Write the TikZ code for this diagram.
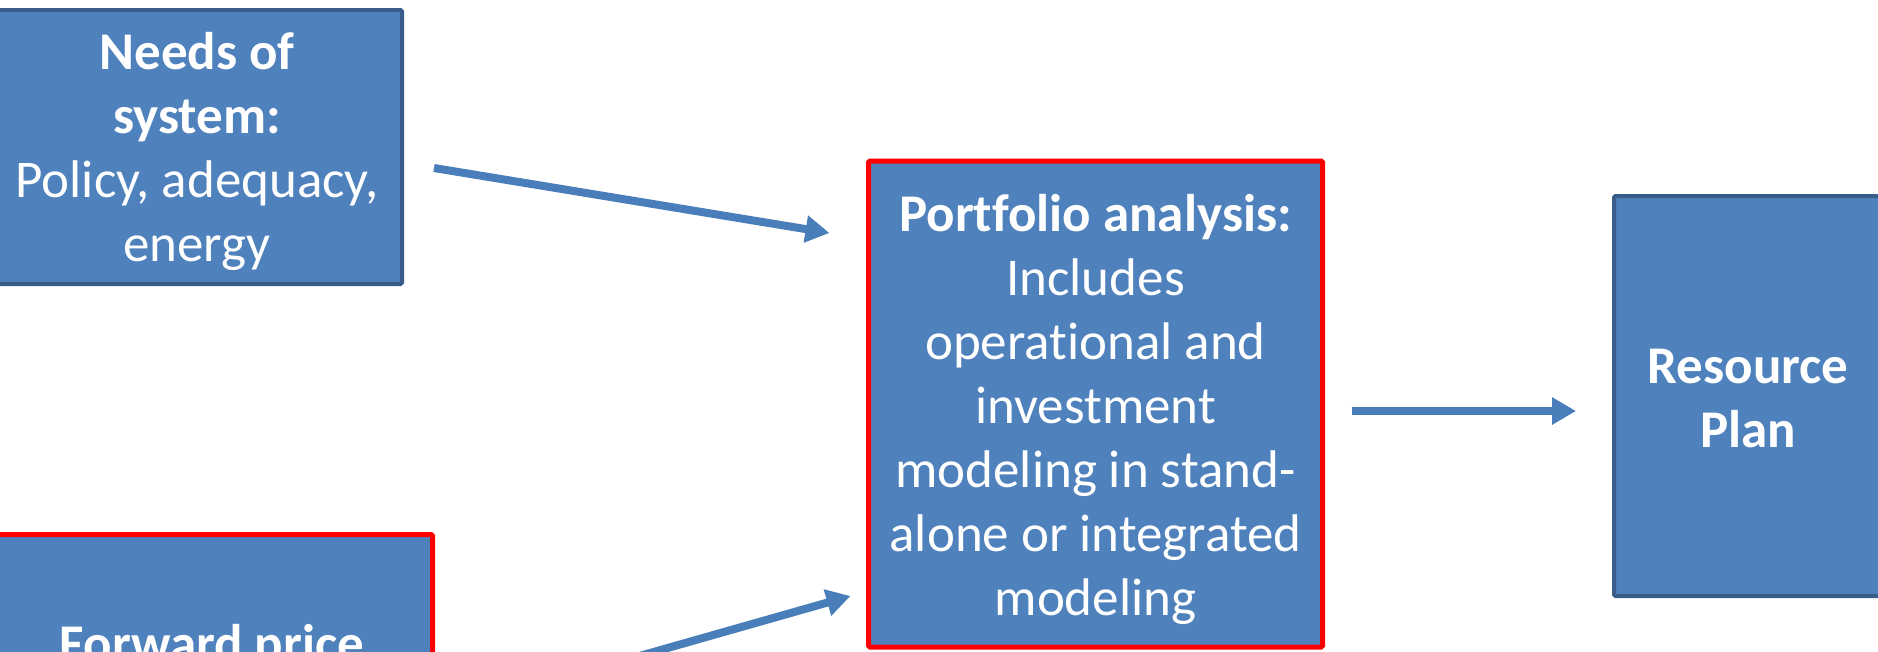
\documentclass[tikz,border=0pt]{standalone}
\usepackage{fontspec}
\setmainfont{Carlito}[Ligatures=NoCommon]
\usetikzlibrary{arrows.meta}
\definecolor{boxfill}{HTML}{4F81BD}
\definecolor{boxline}{HTML}{385D8A}
\definecolor{hired}{HTML}{FF0000}
\definecolor{arrowblue}{HTML}{4A7EBB}
\begin{document}
\begin{tikzpicture}[x=1pt,y=-1pt,
  box/.style={rectangle, fill=boxfill, draw=boxline, line width=4pt, inner sep=0pt, rounded corners=1.5pt},
  redbox/.style={box, draw=hired, line width=5pt},
  txt/.style={text=white, align=center, font=\fontsize{53}{64}\selectfont, inner sep=0pt},
  flow/.style={draw=arrowblue, line width=8pt, -{Triangle[length=24pt,width=26pt]}}]
\useasboundingbox (0,0) rectangle (1878,651);
\clip (0,0) rectangle (1878,651);
\node[box, minimum width=414pt, minimum height=274pt] (needs) at (195,147) {};
\node[txt] (needsT) at ([xshift=2pt,yshift=-4pt]needs.center)
  {\textbf{Needs of}\\\textbf{system:}\\Policy, adequacy,\\energy};
\node[redbox, minimum width=441pt, minimum height=225pt] (fwd) at (212,647) {};
\node[txt] (fwdT) at (fwd.center) {\textbf{Forward price}};
\node[redbox, minimum width=454pt, minimum height=486pt] (port) at (1095.5,404) {};
\node[txt] (portT) at ([yshift=-5pt]port.center)
  {\textbf{Portfolio analysis:}\\Includes\\operat\kern0pt ional and\\investment\\modeling in stand-\\alone or integrated\\modeling};
\node[box, minimum width=268pt, minimum height=400pt] (res) at (1748,396) {};
\node[txt] (resT) at ([yshift=-3pt]res.center) {\textbf{Resource}\\\textbf{Plan}};
\draw[flow] ([shift={(30,21)}]needs.east) -- ([shift={(-36.5,-171)}]port.west);
\draw[flow] ([shift={(25,60)}]fwd.east) -- ([shift={(-15.5,192)}]port.west);
\draw[flow] ([shift={(26.5,7)}]port.east) -- ([shift={(-36,15)}]res.west);
\end{tikzpicture}
\end{document}
